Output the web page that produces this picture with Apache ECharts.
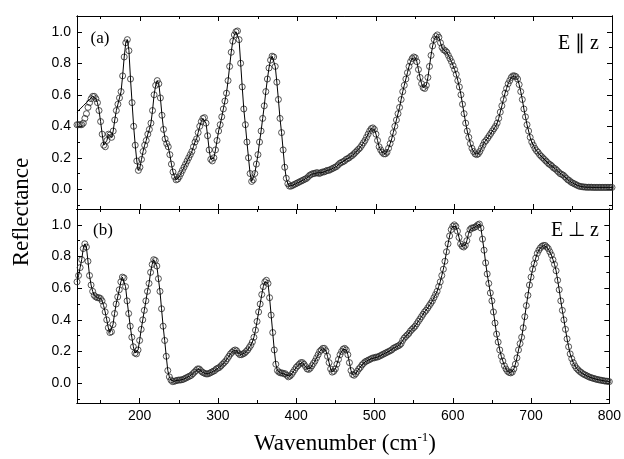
<!DOCTYPE html>
<html>
<head>
<meta charset="utf-8">
<script src="https://cdn.jsdelivr.net/npm/echarts@6.0.0/dist/echarts.min.js"></script>
<style>
  html, body { margin: 0; padding: 0; background: #fff; }
  #chart { width: 624px; height: 459px; }
</style>
</head>
<body>
<div id="chart"></div>
<script>
  // wavenumber grid, 120..800 cm-1, one sample every 2 cm-1
  var wnStart = 120, wnStep = 2;

  // (a) E || z, measured reflectance (circles)
  var reflA = [
    0.41, 0.41, 0.41, 0.41, 0.42, 0.45, 0.48, 0.52, 0.55, 0.575,
    0.59, 0.59, 0.575, 0.55, 0.50, 0.43, 0.35, 0.28, 0.27, 0.31,
    0.35, 0.345, 0.33, 0.37, 0.44, 0.50, 0.54, 0.58, 0.62, 0.72,
    0.84, 0.93, 0.95, 0.88, 0.70, 0.55, 0.40, 0.28, 0.18, 0.12,
    0.14, 0.19, 0.24, 0.28, 0.31, 0.35, 0.38, 0.42, 0.50, 0.60,
    0.66, 0.69, 0.67, 0.58, 0.47, 0.38, 0.32, 0.29, 0.27, 0.22,
    0.16, 0.11, 0.08, 0.06, 0.065, 0.08, 0.10, 0.12, 0.14, 0.16,
    0.18, 0.20, 0.22, 0.24, 0.27, 0.30, 0.32, 0.36, 0.40, 0.43,
    0.45, 0.455, 0.42, 0.34, 0.25, 0.19, 0.18, 0.20, 0.25, 0.31,
    0.37, 0.41, 0.46, 0.51, 0.56, 0.61, 0.69, 0.78, 0.87, 0.94,
    0.98, 1.00, 1.005, 0.95, 0.80, 0.65, 0.51, 0.41, 0.30, 0.20,
    0.10, 0.05, 0.06, 0.10, 0.16, 0.22, 0.30, 0.37, 0.45, 0.53,
    0.62, 0.70, 0.77, 0.82, 0.845, 0.84, 0.78, 0.68, 0.57, 0.45,
    0.36, 0.25, 0.14, 0.07, 0.035, 0.02, 0.02, 0.025, 0.03, 0.035,
    0.04, 0.045, 0.05, 0.055, 0.06, 0.065, 0.07, 0.08, 0.09, 0.095,
    0.10, 0.10, 0.105, 0.105, 0.10, 0.105, 0.11, 0.11, 0.115, 0.12,
    0.12, 0.125, 0.13, 0.135, 0.14, 0.145, 0.155, 0.165, 0.17, 0.175,
    0.18, 0.19, 0.195, 0.20, 0.21, 0.215, 0.225, 0.235, 0.245, 0.255,
    0.265, 0.28, 0.295, 0.31, 0.33, 0.35, 0.37, 0.385, 0.39, 0.38,
    0.35, 0.31, 0.27, 0.25, 0.235, 0.225, 0.225, 0.235, 0.26, 0.29,
    0.32, 0.36, 0.40, 0.44, 0.48, 0.52, 0.57, 0.62, 0.66, 0.70,
    0.74, 0.78, 0.81, 0.83, 0.84, 0.835, 0.81, 0.76, 0.71, 0.67,
    0.645, 0.64, 0.66, 0.71, 0.78, 0.85, 0.91, 0.95, 0.97, 0.98,
    0.965, 0.93, 0.90, 0.885, 0.88, 0.87, 0.85, 0.83, 0.81, 0.785,
    0.76, 0.73, 0.69, 0.65, 0.60, 0.54, 0.48, 0.42, 0.37, 0.33,
    0.29, 0.26, 0.24, 0.225, 0.22, 0.225, 0.24, 0.26, 0.28, 0.30,
    0.31, 0.325, 0.34, 0.355, 0.37, 0.385, 0.40, 0.42, 0.45, 0.49,
    0.53, 0.57, 0.61, 0.64, 0.67, 0.69, 0.71, 0.72, 0.72, 0.715,
    0.70, 0.665, 0.62, 0.57, 0.51, 0.46, 0.41, 0.37, 0.33, 0.30,
    0.28, 0.26, 0.245, 0.235, 0.22, 0.21, 0.20, 0.19, 0.18, 0.17,
    0.16, 0.155, 0.145, 0.135, 0.13, 0.12, 0.11, 0.10, 0.095, 0.09,
    0.08, 0.07, 0.06, 0.055, 0.045, 0.04, 0.035, 0.03, 0.025, 0.02,
    0.018, 0.016, 0.015, 0.014, 0.013, 0.013, 0.013, 0.013, 0.012, 0.012,
    0.012, 0.012, 0.012, 0.012, 0.012, 0.012, 0.012, 0.012, 0.012, 0.012,
    0.012
  ];
  // the fit line in (a) starts above the data below 140 cm-1
  var fitAHead = [0.49, 0.50, 0.51, 0.52, 0.53, 0.54, 0.55, 0.56, 0.57, 0.58];

  // (b) E _|_ z, measured reflectance
  var reflB = [
    0.64, 0.68, 0.73, 0.78, 0.85, 0.88, 0.86, 0.77, 0.68, 0.62,
    0.58, 0.555, 0.545, 0.54, 0.54, 0.535, 0.52, 0.49, 0.45, 0.40,
    0.35, 0.32, 0.325, 0.37, 0.44, 0.50, 0.545, 0.59, 0.64, 0.67,
    0.665, 0.61, 0.52, 0.44, 0.36, 0.29, 0.23, 0.19, 0.185, 0.21,
    0.27, 0.34, 0.40, 0.46, 0.52, 0.58, 0.63, 0.70, 0.75, 0.78,
    0.775, 0.74, 0.66, 0.58, 0.47, 0.36, 0.27, 0.17, 0.08, 0.04,
    0.02, 0.01, 0.012, 0.015, 0.018, 0.02, 0.02, 0.022, 0.025, 0.03,
    0.035, 0.04, 0.045, 0.05, 0.06, 0.07, 0.08, 0.09, 0.09, 0.08,
    0.07, 0.065, 0.06, 0.058, 0.06, 0.065, 0.07, 0.075, 0.08, 0.09,
    0.095, 0.10, 0.11, 0.12, 0.13, 0.14, 0.155, 0.17, 0.185, 0.195,
    0.205, 0.21, 0.205, 0.19, 0.18, 0.18, 0.185, 0.19, 0.20, 0.21,
    0.225, 0.24, 0.26, 0.29, 0.335, 0.39, 0.45, 0.50, 0.56, 0.61,
    0.64, 0.65, 0.63, 0.54, 0.43, 0.32, 0.21, 0.12, 0.08, 0.07,
    0.065, 0.065, 0.06, 0.06, 0.05, 0.04, 0.045, 0.055, 0.07, 0.085,
    0.10, 0.11, 0.12, 0.13, 0.13, 0.12, 0.105, 0.09, 0.087, 0.095,
    0.11, 0.125, 0.14, 0.16, 0.18, 0.20, 0.21, 0.22, 0.22, 0.205,
    0.17, 0.13, 0.09, 0.07, 0.075, 0.09, 0.12, 0.15, 0.18, 0.20,
    0.215, 0.22, 0.21, 0.18, 0.13, 0.08, 0.055, 0.05, 0.06, 0.075,
    0.09, 0.10, 0.115, 0.125, 0.135, 0.14, 0.145, 0.15, 0.155, 0.16,
    0.16, 0.165, 0.165, 0.17, 0.175, 0.18, 0.185, 0.19, 0.195, 0.20,
    0.205, 0.21, 0.22, 0.225, 0.23, 0.235, 0.24, 0.25, 0.27, 0.285,
    0.295, 0.305, 0.315, 0.33, 0.34, 0.35, 0.36, 0.375, 0.39, 0.405,
    0.42, 0.435, 0.45, 0.46, 0.475, 0.49, 0.505, 0.52, 0.54, 0.56,
    0.58, 0.61, 0.64, 0.68, 0.72, 0.77, 0.83, 0.88, 0.93, 0.97,
    0.99, 1.0, 0.99, 0.96, 0.92, 0.88, 0.865, 0.86, 0.87, 0.90,
    0.94, 0.97, 0.98, 0.98, 0.985, 0.99, 1.0, 1.005, 0.98, 0.91,
    0.84, 0.76, 0.69, 0.63, 0.57, 0.52, 0.45, 0.38, 0.31, 0.26,
    0.21, 0.17, 0.14, 0.11, 0.09, 0.075, 0.068, 0.065, 0.07, 0.09,
    0.12, 0.16, 0.21, 0.25, 0.29, 0.35, 0.42, 0.49, 0.555, 0.62,
    0.67, 0.72, 0.755, 0.79, 0.82, 0.84, 0.855, 0.865, 0.87, 0.87,
    0.86, 0.85, 0.83, 0.81, 0.78, 0.75, 0.71, 0.65, 0.59, 0.52,
    0.46, 0.40, 0.34, 0.28, 0.23, 0.185, 0.155, 0.13, 0.11, 0.095,
    0.085, 0.075, 0.068, 0.06, 0.055, 0.05, 0.045, 0.04, 0.036, 0.033,
    0.03, 0.027, 0.024, 0.022, 0.02, 0.018, 0.016, 0.014, 0.013, 0.012,
    0.01
  ];

  var xMajor = [200, 300, 400, 500, 600, 700, 800];
  var xMinor = [150, 250, 350, 450, 550, 650, 750];
  var yMajor = [0, 0.2, 0.4, 0.6, 0.8, 1.0];
  var yMinor = [-0.1, 0.1, 0.3, 0.5, 0.7, 0.9];

  function pairs(vals) {
    return vals.map(function (v, i) { return [wnStart + i * wnStep, v]; });
  }
  var ptsA = pairs(reflA);
  var ptsB = pairs(reflB);
  var fitA = pairs(fitAHead.concat(reflA.slice(fitAHead.length)));

  var black = '#000';
  var tickFont = { color: black, fontFamily: 'Liberation Sans', fontSize: 14 };

  function xAx(grid, pos, ticks, len, labels) {
    return {
      type: 'value', gridIndex: grid, position: pos, min: 120, max: 800,
      axisLine: { show: true, onZero: false, lineStyle: { color: black, width: 1 } },
      axisTick: { show: true, inside: true, length: len, customValues: ticks, lineStyle: { color: black, width: 1 } },
      axisLabel: Object.assign({ show: labels, customValues: ticks, margin: 6 }, tickFont),
      splitLine: { show: false }
    };
  }
  function yAx(grid, pos, ticks, len, labels) {
    return {
      type: 'value', gridIndex: grid, position: pos, min: -0.125, max: 1.1,
      axisLine: { show: true, onZero: false, lineStyle: { color: black, width: 1 } },
      axisTick: { show: true, inside: true, length: len, customValues: ticks, lineStyle: { color: black, width: 1 } },
      axisLabel: Object.assign({
        show: labels, customValues: ticks, margin: 6,
        formatter: function (v) { return v.toFixed(1); }
      }, tickFont),
      splitLine: { show: false }
    };
  }

  var xAxes = [], yAxes = [];
  [0, 1].forEach(function (g) {
    xAxes.push(xAx(g, 'bottom', xMajor, 5, g === 1));
    xAxes.push(xAx(g, 'bottom', xMinor, 3, false));
    xAxes.push(xAx(g, 'top', xMajor, 5, false));
    xAxes.push(xAx(g, 'top', xMinor, 3, false));
    yAxes.push(yAx(g, 'left', yMajor, 5, true));
    yAxes.push(yAx(g, 'left', yMinor, 3, false));
    yAxes.push(yAx(g, 'right', yMajor, 5, false));
    yAxes.push(yAx(g, 'right', yMinor, 3, false));
  });

  function dots(pts, idx) {
    return {
      type: 'scatter', xAxisIndex: idx, yAxisIndex: idx, data: pts,
      symbol: 'circle', symbolSize: 6, silent: true,
      itemStyle: { color: 'rgba(0,0,0,0)', borderColor: '#2a2a2a', borderWidth: 1 }
    };
  }
  function fit(pts, idx) {
    return {
      type: 'line', xAxisIndex: idx, yAxisIndex: idx, data: pts,
      showSymbol: false, silent: true, z: 3,
      lineStyle: { color: black, width: 1 }
    };
  }

  var serif = '"Liberation Serif", "Times New Roman", serif';
  var chart = echarts.init(document.getElementById('chart'));
  chart.setOption({
    animation: false,
    backgroundColor: '#fff',
    grid: [
      { left: 77, right: 12, top: 16, height: 193 },
      { left: 77, right: 12, top: 209, height: 194 }
    ],
    xAxis: xAxes,
    yAxis: yAxes,
    series: [dots(ptsA, 0), fit(fitA, 0), dots(ptsB, 4), fit(ptsB, 4)],
    graphic: [
      { type: 'text', x: 100, y: 39, style: { text: '(a)', align: 'center', verticalAlign: 'middle', font: '17px ' + serif, fill: black } },
      { type: 'text', x: 103, y: 231, style: { text: '(b)', align: 'center', verticalAlign: 'middle', font: '17px ' + serif, fill: black } },
      { type: 'text', x: 599, y: 44, style: { text: 'E \u2225 z', align: 'right', verticalAlign: 'middle', font: '20px ' + serif, fill: black } },
      { type: 'text', x: 599, y: 231, style: { text: 'E \u22a5 z', align: 'right', verticalAlign: 'middle', font: '20px ' + serif, fill: black } },
      { type: 'text', x: 22, y: 212, rotation: Math.PI / 2,
        style: { text: 'Reflectance', align: 'center', verticalAlign: 'middle', font: '23px ' + serif, fill: black } },
      { type: 'text', x: 345, y: 444,
        style: {
          text: 'Wavenumber (cm{s|-1})', align: 'center', verticalAlign: 'middle',
          font: '23px ' + serif, fill: black,
          rich: { s: { fontSize: 13, fontFamily: serif, verticalAlign: 'top', padding: [0, 0, 12, 0] } }
        } }
    ]
  });
</script>
</body>
</html>
